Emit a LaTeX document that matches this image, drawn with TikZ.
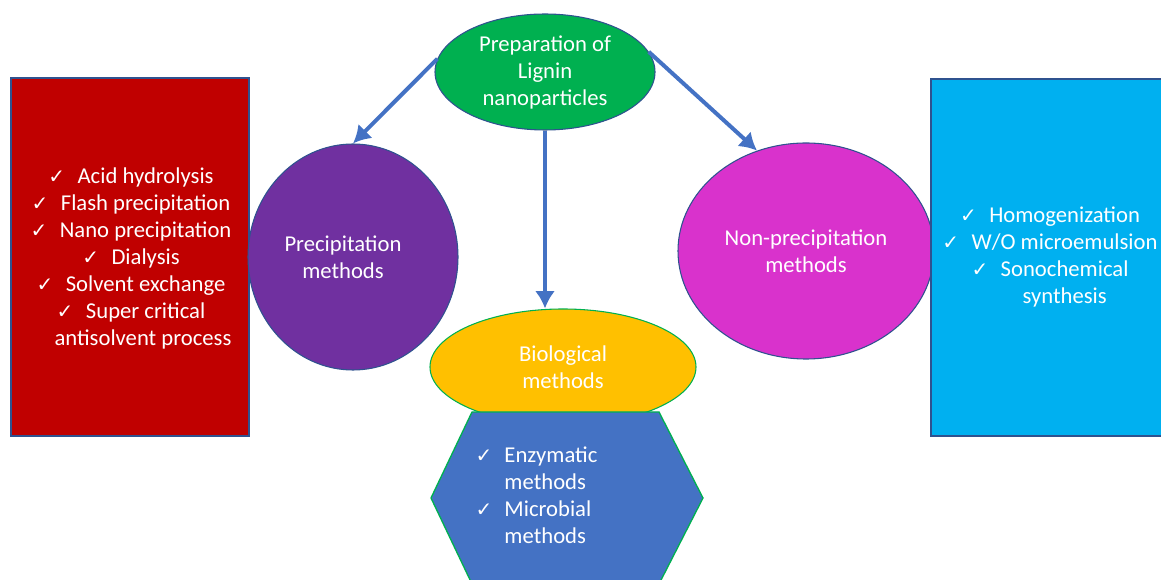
\documentclass[tikz,border=0pt]{standalone}
\usepackage{fontspec}
\setmainfont{Carlito}
\newfontfamily\ckfont{DejaVu Sans}
\usetikzlibrary{shapes.geometric,arrows.meta}
\definecolor{edgeblue}{HTML}{2F528F}
\definecolor{arrowblue}{HTML}{4472C4}
\definecolor{prepgreen}{HTML}{00B050}
\definecolor{precippurple}{HTML}{7030A0}
\definecolor{nonprecpink}{HTML}{D932CC}
\definecolor{bioyellow}{HTML}{FFC000}
\definecolor{listred}{HTML}{C00000}
\definecolor{listcyan}{HTML}{00B0F0}
\newcommand{\ckmark}{{\ckfont\fontsize{15}{15}\selectfont ✓}}
\newcommand{\ck}{\ckmark\hspace{0.55em}}
\tikzset{
  txt/.style={text=white,align=center,font=\fontsize{17}{20.25}\selectfont},
  blob/.style={ellipse,draw=edgeblue,line width=0.8pt,inner sep=0pt,txt},
  flow/.style={-{Latex[length=13pt,width=15pt]},draw=arrowblue,line width=3pt}
}
\begin{document}
\begin{tikzpicture}[x=0.75pt,y=-0.75pt]
				\useasboundingbox (0,0) rectangle (1161,580);
				% side boxes
				\node[draw=edgeblue,fill=listred,line width=0.8pt,minimum width=178.5pt,minimum height=268.5pt] (redbox) at (130,257) {};
				\node[blob,fill=precippurple,minimum width=157.5pt,minimum height=169.5pt] (precip) at (353,257) {};
				\node[txt] (preciptext) at (343,257) {Precipitation\\methods};
				\node[txt] (redlist) at (131,258) {\ck Acid hydrolysis\\ \ck Flash precipitation\\ \ck Nano precipitation\\ \ck Dialysis\\ \ck Solvent exchange\\ \ck Super critical\\ \hspace*{18pt}antisolvent process};
				\node[blob,fill=nonprecpink,minimum width=192pt,minimum height=162pt] (nonprec) at (806,251) {Non-precipitation\\methods};
				\draw[draw=edgeblue,fill=listcyan,line width=0.8pt] (931,79) rectangle (1175,436);
				\node[txt] (cyanlist) at (1050,257) {\ck Homogenization\\ \ck W/O microemulsion\\ \ck Sonochemical\\ \hspace*{22pt}synthesis};
				% middle
				\node[blob,fill=prepgreen,minimum width=165pt,minimum height=87pt] (prep) at (545,72) {Preparation of\\Lignin\\nanoparticles};
				\node[blob,draw=prepgreen,fill=bioyellow,minimum width=199.5pt,minimum height=87pt] (bio) at (563,367) {Biological\\methods};
				\draw[draw=prepgreen,fill=arrowblue,line width=1pt] (472,412)--(659,412)--(703,498)--(659,584)--(472,584)--(431,498)--cycle;
				\node[txt,anchor=west] (biolist) at (471,498) {\begin{tabular}{@{}l@{\hspace{9pt}}l@{}}\ckmark & Enzymatic\\ & methods\\ \ckmark & Microbial\\ & methods\end{tabular}};
				% arrows
				\draw[flow] (prep.173)--(precip.north);
				\draw[flow] (prep.south)--(prep.south |- bio.north);
				\draw[flow] (prep.11)--(nonprec.116);
				\end{tikzpicture}
\end{document}
